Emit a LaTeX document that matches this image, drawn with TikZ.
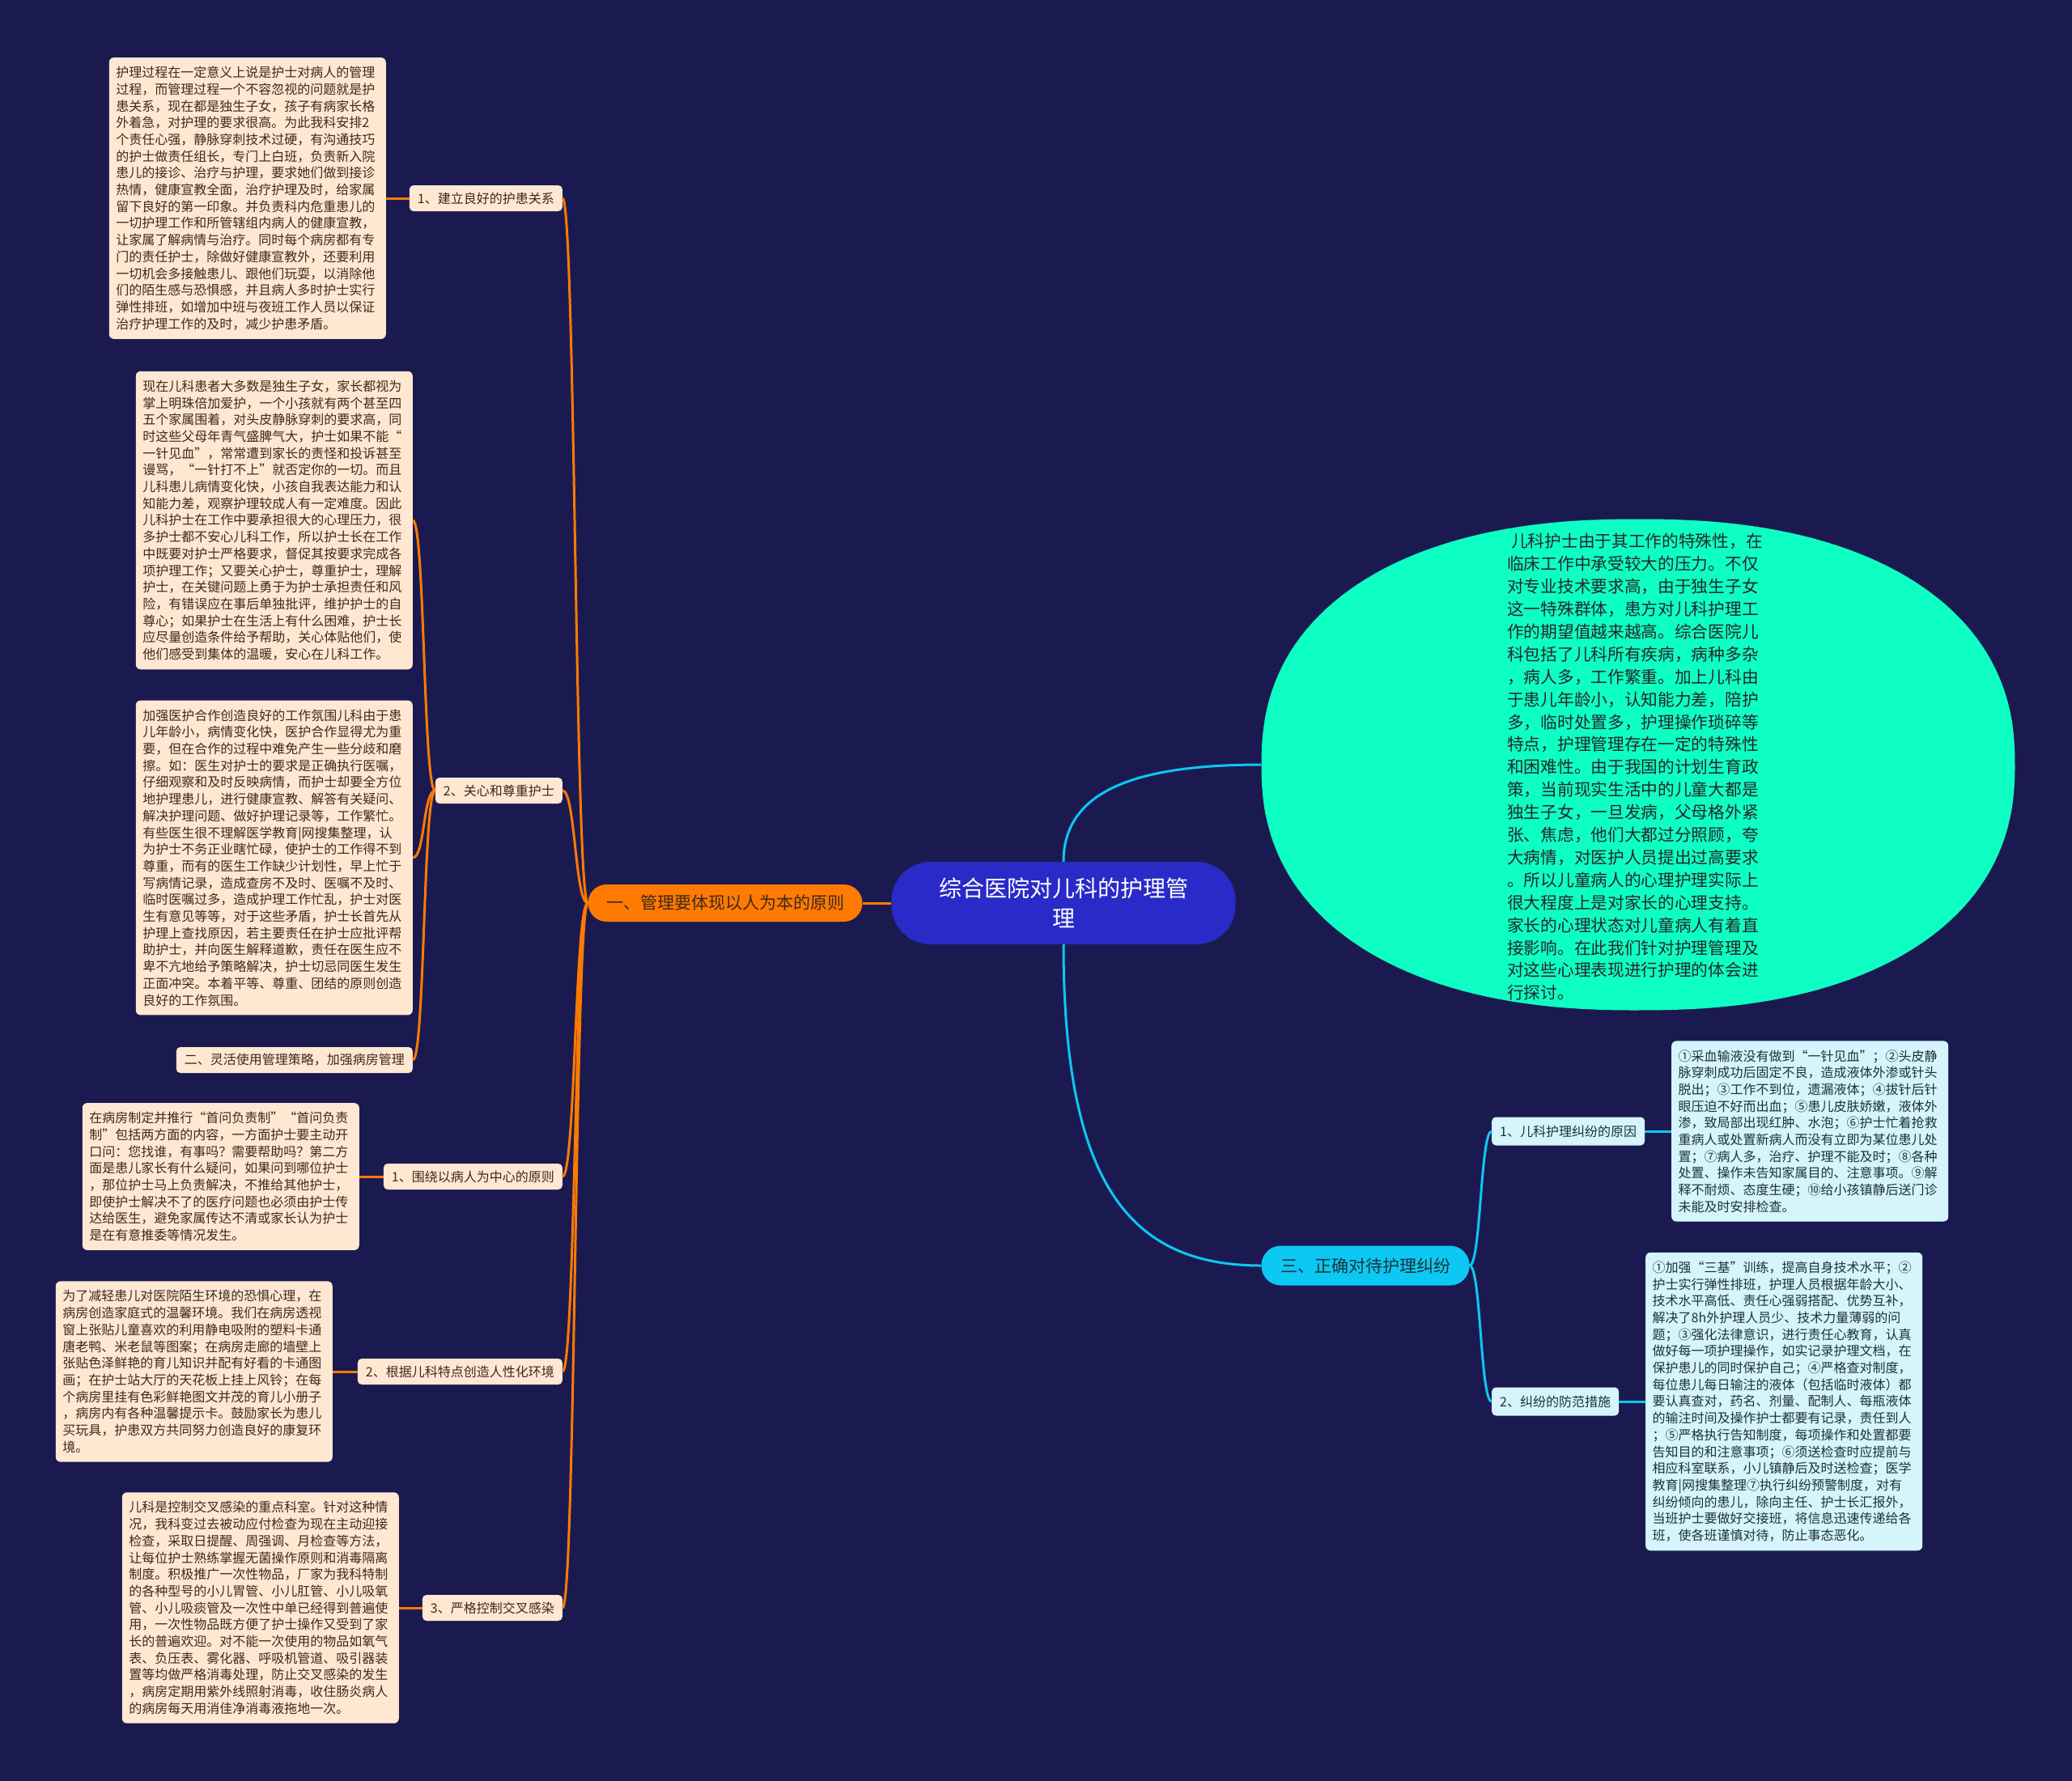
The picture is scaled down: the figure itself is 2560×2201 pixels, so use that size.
\documentclass[tikz,border=0pt]{standalone}
\usepackage{fontspec}
\setmainfont{Noto Sans CJK SC}
\usetikzlibrary{shapes.geometric}

\definecolor{navy}{HTML}{1B1A50}
\definecolor{rootblue}{HTML}{2A2AC8}
\definecolor{carrot}{HTML}{FF7A00}
\definecolor{sky}{HTML}{0CC8F2}
\definecolor{mint}{HTML}{0EFFC4}
\definecolor{cream}{HTML}{FFE8D2}
\definecolor{ice}{HTML}{D5F4FB}
\definecolor{brownink}{HTML}{3D2A1C}
\definecolor{slateink}{HTML}{1E3038}

\tikzset{
	leafbox/.style={fill=cream, text=brownink, rounded corners=6pt, align=left, text width=325pt, inner xsep=8.5pt, inner ysep=11pt, font=\fontsize{16}{20.7}\selectfont},
	iceleaf/.style={leafbox, fill=ice, text=slateink},
	topic/.style={fill=cream, text=brownink, rounded corners=5pt, inner xsep=10pt, inner ysep=0pt, minimum height=32pt, font=\fontsize{16}{20}\selectfont},
	icetopic/.style={topic, fill=ice, text=slateink, minimum height=35pt},
	orangeline/.style={carrot, line width=3pt},
	skyline/.style={sky, line width=3pt}
}

\begin{document}
\begin{tikzpicture}[x=1pt, y=-1pt]

	% Background and size
	\fill [navy] (0,0) rectangle (2560,2201);

	% Root and main branches
	\node [fill=rootblue, text=white, rounded corners=48pt, minimum width=425pt, minimum height=102pt, text width=312pt, align=center, font=\fontsize{28}{37}\selectfont] (root) at (1314,1116){综合医院对儿科的护理管\\理};
	\node [fill=carrot, text=brownink, rounded corners=23pt, minimum width=339pt, minimum height=46pt, font=\fontsize{21}{25}\selectfont] (princ) at (896,1116){一、管理要体现以人为本的原则};
	\node [fill=sky, text=slateink, rounded corners=24pt, minimum width=257pt, minimum height=49pt, font=\fontsize{21}{25}\selectfont] (disp) at (1687,1564){三、正确对待护理纠纷};

	% Intro blob (a fuller ellipse)
	\fill [mint] plot [domain=0.5:358.5, samples=180] ({2024+465.5*sign(cos(\x))*abs(cos(\x))^(0.87)}, {945+303.5*sign(sin(\x))*abs(sin(\x))^(0.87)}) -- cycle;
	\node [ellipse, minimum width=931pt, minimum height=607pt, inner sep=0pt] (intro) at (2024,945){};
	\node [text=black!85, align=left, font=\fontsize{20.7}{27.9}\selectfont] (introtxt) at (2020,948){\hspace*{5pt}儿科护士由于其工作的特殊性，在\\临床工作中承受较大的压力。不仅\\对专业技术要求高，由于独生子女\\这一特殊群体，患方对儿科护理工\\作的期望值越来越高。综合医院儿\\科包括了儿科所有疾病，病种多杂\\，病人多，工作繁重。加上儿科由\\于患儿年龄小，认知能力差，陪护\\多，临时处置多，护理操作琐碎等\\特点，护理管理存在一定的特殊性\\和困难性。由于我国的计划生育政\\策，当前现实生活中的儿童大都是\\独生子女，一旦发病，父母格外紧\\张、焦虑，他们大都过分照顾，夸\\大病情，对医护人员提出过高要求\\。所以儿童病人的心理护理实际上\\很大程度上是对家长的心理支持。\\家长的心理状态对儿童病人有着直\\接影响。在此我们针对护理管理及\\对这些心理表现进行护理的体会进\\行探讨。};

	\draw [orangeline] (root.west) -- (princ.east);
	\draw [skyline] (root.north) .. controls +(0,-90) and +(-150,0) .. (intro.west);
	\draw [skyline] (root.south) .. controls +(0,300) and +(-160,0) .. (disp.west);

	% Left side: topics under the first branch
	\node [topic, anchor=east] (rel) at (695,245){1、建立良好的护患关系};
	\node [topic, anchor=east] (resp) at (695,977){2、关心和尊重护士};
	\node [topic, anchor=east] (centre) at (695,1454){1、围绕以病人为中心的原则};
	\node [topic, anchor=east] (env) at (695,1695){2、根据儿科特点创造人性化环境};
	\node [topic, anchor=east] (infect) at (695,1987){3、严格控制交叉感染};

	\draw [orangeline] (princ.west) .. controls +(-16,0) and +(16,0) .. (rel.east);
	\draw [orangeline] (princ.west) .. controls +(-16,0) and +(16,0) .. (resp.east);
	\draw [orangeline] (princ.west) .. controls +(-16,0) and +(16,0) .. (centre.east);
	\draw [orangeline] (princ.west) .. controls +(-16,0) and +(16,0) .. (env.east);
	\draw [orangeline] (princ.west) .. controls +(-16,0) and +(16,0) .. (infect.east);

	% Left side: text boxes
	\node [leafbox, anchor=east] (relTxt) at (477,245){护理过程在一定意义上说是护士对病人的管理\\过程，而管理过程一个不容忽视的问题就是护\\患关系，现在都是独生子女，孩子有病家长格\\外着急，对护理的要求很高。为此我科安排2\\个责任心强，静脉穿刺技术过硬，有沟通技巧\\的护士做责任组长，专门上白班，负责新入院\\患儿的接诊、治疗与护理，要求她们做到接诊\\热情，健康宣教全面，治疗护理及时，给家属\\留下良好的第一印象。并负责科内危重患儿的\\一切护理工作和所管辖组内病人的健康宣教，\\让家属了解病情与治疗。同时每个病房都有专\\门的责任护士，除做好健康宣教外，还要利用\\一切机会多接触患儿、跟他们玩耍，以消除他\\们的陌生感与恐惧感，并且病人多时护士实行\\弹性排班，如增加中班与夜班工作人员以保证\\治疗护理工作的及时，减少护患矛盾。};
	\node [leafbox, anchor=east] (respTxtA) at (510,643){现在儿科患者大多数是独生子女，家长都视为\\掌上明珠倍加爱护，一个小孩就有两个甚至四\\五个家属围着，对头皮静脉穿刺的要求高，同\\时这些父母年青气盛脾气大，护士如果不能“\\一针见血”，常常遭到家长的责怪和投诉甚至\\谩骂，“一针打不上”就否定你的一切。而且\\儿科患儿病情变化快，小孩自我表达能力和认\\知能力差，观察护理较成人有一定难度。因此\\儿科护士在工作中要承担很大的心理压力，很\\多护士都不安心儿科工作，所以护士长在工作\\中既要对护士严格要求，督促其按要求完成各\\项护理工作；又要关心护士，尊重护士，理解\\护士，在关键问题上勇于为护士承担责任和风\\险，有错误应在事后单独批评，维护护士的自\\尊心；如果护士在生活上有什么困难，护士长\\应尽量创造条件给予帮助，关心体贴他们，使\\他们感受到集体的温暖，安心在儿科工作。};
	\node [leafbox, anchor=east] (respTxtB) at (510,1060){加强医护合作创造良好的工作氛围儿科由于患\\儿年龄小，病情变化快，医护合作显得尤为重\\要，但在合作的过程中难免产生一些分歧和磨\\擦。如：医生对护士的要求是正确执行医嘱，\\仔细观察和及时反映病情，而护士却要全方位\\地护理患儿，进行健康宣教、解答有关疑问、\\解决护理问题、做好护理记录等，工作繁忙。\\有些医生很不理解医学教育|网搜集整理，认\\为护士不务正业瞎忙碌，使护士的工作得不到\\尊重，而有的医生工作缺少计划性，早上忙于\\写病情记录，造成查房不及时、医嘱不及时、\\临时医嘱过多，造成护理工作忙乱，护士对医\\生有意见等等，对于这些矛盾，护士长首先从\\护理上查找原因，若主要责任在护士应批评帮\\助护士，并向医生解释道歉，责任在医生应不\\卑不亢地给予策略解决，护士切忌同医生发生\\正面冲突。本着平等、尊重、团结的原则创造\\良好的工作氛围。};
	\node [topic, anchor=east] (flex) at (510,1310){二、灵活使用管理策略，加强病房管理};
	\node [leafbox, anchor=east] (centreTxt) at (444,1454){在病房制定并推行“首问负责制”“首问负责\\制”包括两方面的内容，一方面护士要主动开\\口问：您找谁，有事吗？需要帮助吗？第二方\\面是患儿家长有什么疑问，如果问到哪位护士\\，那位护士马上负责解决，不推给其他护士，\\即使护士解决不了的医疗问题也必须由护士传\\达给医生，避免家属传达不清或家长认为护士\\是在有意推委等情况发生。};
	\node [leafbox, anchor=east] (envTxt) at (411,1695){为了减轻患儿对医院陌生环境的恐惧心理，在\\病房创造家庭式的温馨环境。我们在病房透视\\窗上张贴儿童喜欢的利用静电吸附的塑料卡通\\唐老鸭、米老鼠等图案；在病房走廊的墙壁上\\张贴色泽鲜艳的育儿知识并配有好看的卡通图\\画；在护士站大厅的天花板上挂上风铃；在每\\个病房里挂有色彩鲜艳图文并茂的育儿小册子\\，病房内有各种温馨提示卡。鼓励家长为患儿\\买玩具，护患双方共同努力创造良好的康复环\\境。};
	\node [leafbox, anchor=east] (infectTxt) at (493,1987){儿科是控制交叉感染的重点科室。针对这种情\\况，我科变过去被动应付检查为现在主动迎接\\检查，采取日提醒、周强调、月检查等方法，\\让每位护士熟练掌握无菌操作原则和消毒隔离\\制度。积极推广一次性物品，厂家为我科特制\\的各种型号的小儿胃管、小儿肛管、小儿吸氧\\管、小儿吸痰管及一次性中单已经得到普遍使\\用，一次性物品既方便了护士操作又受到了家\\长的普遍欢迎。对不能一次使用的物品如氧气\\表、负压表、雾化器、呼吸机管道、吸引器装\\置等均做严格消毒处理，防止交叉感染的发生\\，病房定期用紫外线照射消毒，收住肠炎病人\\的病房每天用消佳净消毒液拖地一次。};

	\draw [orangeline] (rel.west) -- (relTxt.east);
	\draw [orangeline] (resp.west) .. controls +(-15,0) and +(15,0) .. (respTxtA.east);
	\draw [orangeline] (resp.west) .. controls +(-15,0) and +(15,0) .. (respTxtB.east);
	\draw [orangeline] (resp.west) .. controls +(-15,0) and +(15,0) .. (flex.east);
	\draw [orangeline] (centre.west) -- (centreTxt.east);
	\draw [orangeline] (env.west) -- (envTxt.east);
	\draw [orangeline] (infect.west) -- (infectTxt.east);

	% Right side: disputes
	\node [icetopic, anchor=west] (cause) at (1843,1398){1、儿科护理纠纷的原因};
	\node [icetopic, anchor=west] (prevent) at (1843,1732){2、纠纷的防范措施};
	\node [iceleaf, anchor=west] (causeTxt) at (2065,1398){①采血输液没有做到“一针见血”；②头皮静\\脉穿刺成功后固定不良，造成液体外渗或针头\\脱出；③工作不到位，遗漏液体；④拔针后针\\眼压迫不好而出血；⑤患儿皮肤娇嫩，液体外\\渗，致局部出现红肿、水泡；⑥护士忙着抢救\\重病人或处置新病人而没有立即为某位患儿处\\置；⑦病人多，治疗、护理不能及时；⑧各种\\处置、操作未告知家属目的、注意事项。⑨解\\释不耐烦、态度生硬；⑩给小孩镇静后送门诊\\未能及时安排检查。};
	\node [iceleaf, anchor=west] (preventTxt) at (2033,1732){①加强“三基”训练，提高自身技术水平；②\\护士实行弹性排班，护理人员根据年龄大小、\\技术水平高低、责任心强弱搭配、优势互补，\\解决了8h外护理人员少、技术力量薄弱的问\\题；③强化法律意识，进行责任心教育，认真\\做好每一项护理操作，如实记录护理文档，在\\保护患儿的同时保护自己；④严格查对制度，\\每位患儿每日输注的液体（包括临时液体）都\\要认真查对，药名、剂量、配制人、每瓶液体\\的输注时间及操作护士都要有记录，责任到人\\；⑤严格执行告知制度，每项操作和处置都要\\告知目的和注意事项；⑥须送检查时应提前与\\相应科室联系，小儿镇静后及时送检查；医学\\教育|网搜集整理⑦执行纠纷预警制度，对有\\纠纷倾向的患儿，除向主任、护士长汇报外，\\当班护士要做好交接班，将信息迅速传递给各\\班，使各班谨慎对待，防止事态恶化。};

	\draw [skyline] (disp.east) .. controls +(14,0) and +(-14,0) .. (cause.west);
	\draw [skyline] (disp.east) .. controls +(14,0) and +(-14,0) .. (prevent.west);
	\draw [skyline] (cause.east) -- (causeTxt.west);
	\draw [skyline] (prevent.east) -- (preventTxt.west);

\end{tikzpicture}
\end{document}
